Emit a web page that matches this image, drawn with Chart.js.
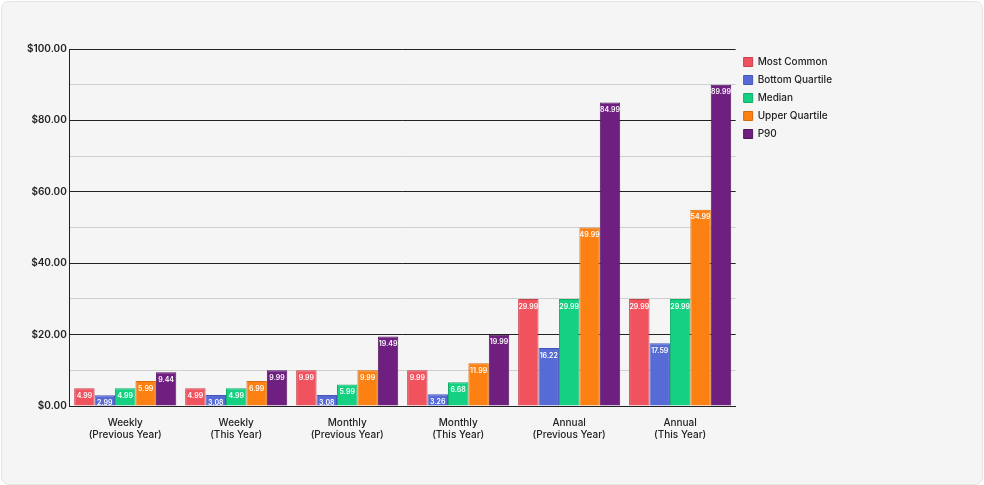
<!DOCTYPE html>
<html><head><script src="https://cdn.jsdelivr.net/npm/chart.js@4"></script>
<style>body{margin:0;background:#fff}#w{position:absolute;left:1px;top:1px;width:980px;height:482px;background:#f5f5f5;border:1px solid #e4e4e4;border-radius:8px}</style></head>
<body><div id="w"><canvas id="c" width="980" height="482"></canvas></div>
<script>
const categories=[["Weekly","(Previous Year)"],["Weekly","(This Year)"],["Monthly","(Previous Year)"],["Monthly","(This Year)"],["Annual","(Previous Year)"],["Annual","(This Year)"]];
const mostCommon=[4.99,4.99,9.99,9.99,29.99,29.99];
const bottomQuartile=[2.99,3.08,3.08,3.26,16.22,17.59];
const median=[4.99,4.99,5.99,6.68,29.99,29.99];
const upperQuartile=[6.99,6.99,9.99,11.99,49.99,54.99];
const upperQuartileLabels=["5.99","6.99","9.99","11.99","49.99","54.99"];
const p90=[9.44,9.99,19.49,19.99,84.99,89.99];
const mk=(l,d,c,b,lab)=>({label:l,data:d,backgroundColor:c,borderColor:b,borderWidth:1,labels:lab,categoryPercentage:0.92,barPercentage:1});
const lbl={id:'lbl',afterDatasetsDraw(ch){const x=ch.ctx;x.save();x.fillStyle='#fff';x.font='600 7px Inter';x.textAlign='center';x.textBaseline='top';
ch.data.datasets.forEach((ds,i)=>{ch.getDatasetMeta(i).data.forEach((b,j)=>{const t=ds.labels?ds.labels[j]:ds.data[j].toFixed(2);x.fillText(t,b.x,b.y+4);});});x.restore();}};
new Chart(document.getElementById('c'),{type:'bar',plugins:[lbl],data:{labels:categories,datasets:[
mk('Most Common',mostCommon,'#f0525e','#c9414c'),
mk('Bottom Quartile',bottomQuartile,'#566bd6','#4355b5'),
mk('Median',median,'#14d182','#0fae6b'),
mk('Upper Quartile',upperQuartile,'#fd8012','#d66a0c',upperQuartileLabels),
mk('P90',p90,'#6f1f80','#551660')]},
options:{responsive:false,animation:false,layout:{padding:{left:22,top:47,right:140,bottom:40}},
plugins:{legend:{position:'right',align:'start',labels:{boxWidth:9,boxHeight:9,padding:8,color:'#222',font:{size:10,family:'Inter',weight:'500'}}},tooltip:{enabled:false}},
scales:{x:{grid:{display:false},border:{color:'#222'},ticks:{color:'#222',font:{size:10,family:'Inter',weight:'500'}}},
y:{min:0,max:100,border:{color:'#222'},ticks:{stepSize:10,color:'#222',font:{size:10,family:'Inter',weight:'600'},callback:v=>v%20===0?'$'+v.toFixed(2):''},
grid:{color:c=>c.tick.value%20===0?'#222':'#cfcfcf',lineWidth:1,drawTicks:false}}}}});
</script></body></html>
